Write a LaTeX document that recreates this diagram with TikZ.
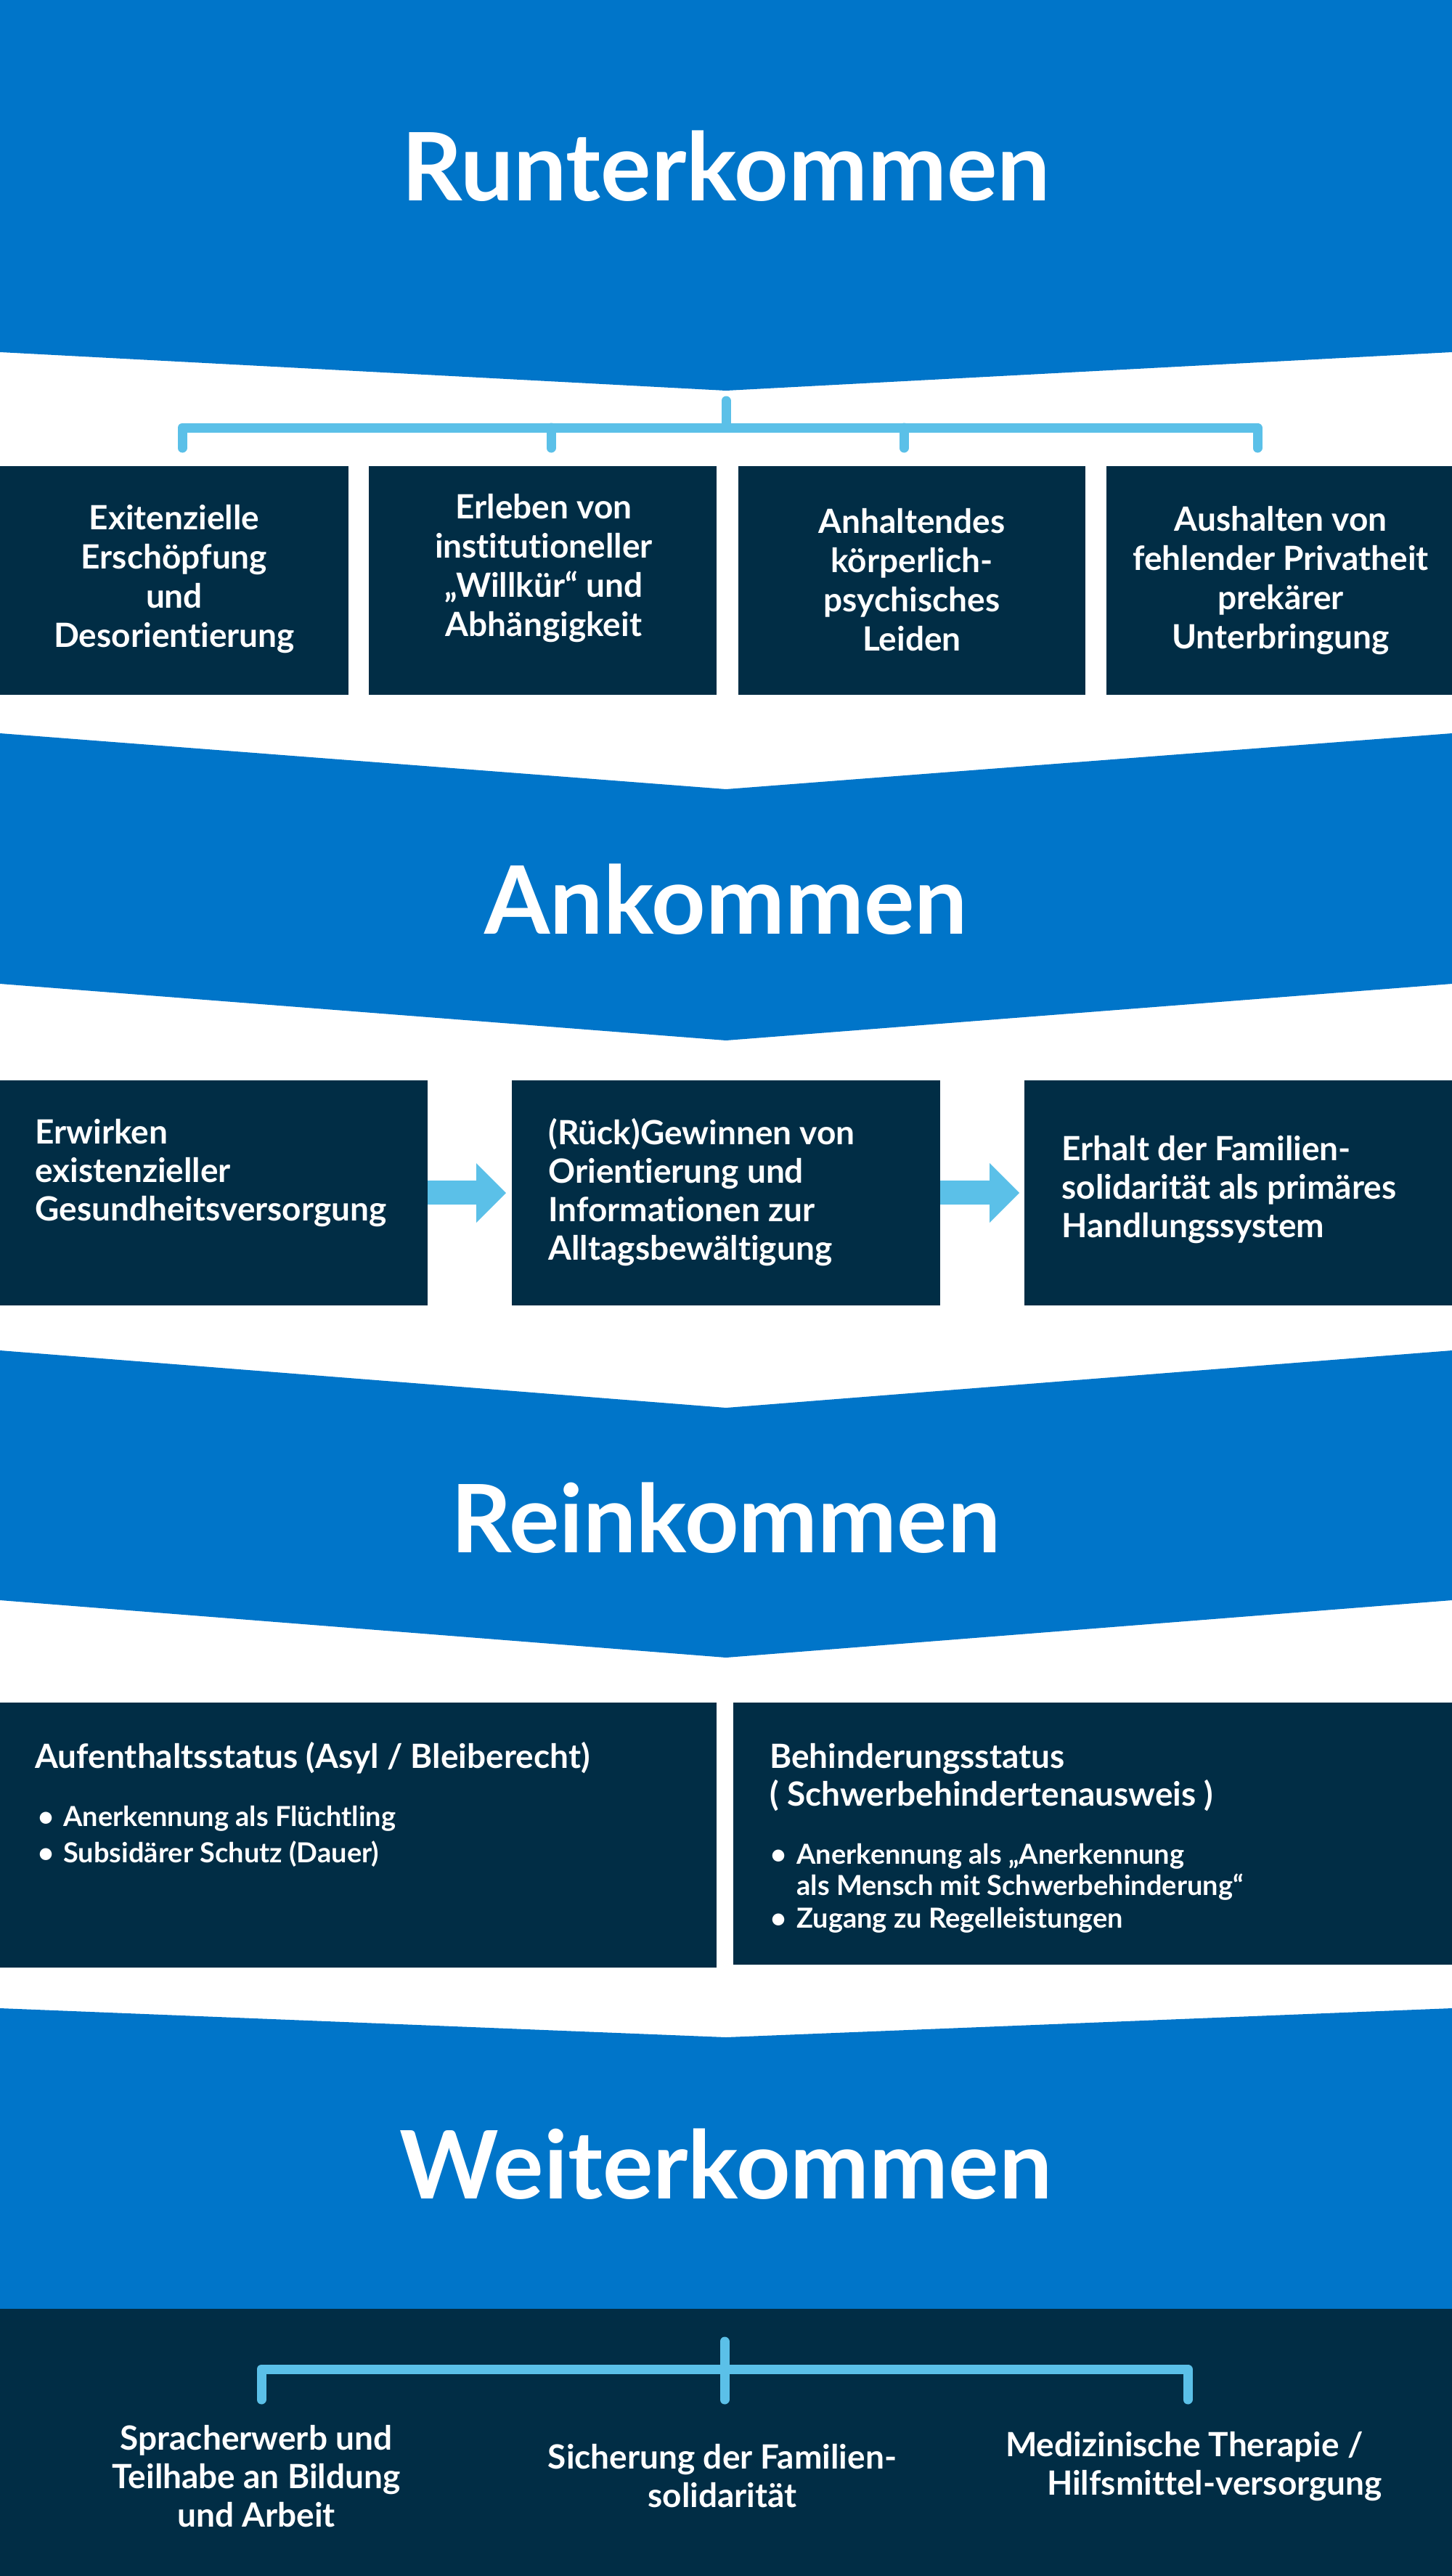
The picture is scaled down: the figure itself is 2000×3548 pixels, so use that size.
\documentclass[tikz,border=0pt]{standalone}
\usepackage{fontspec}
\setmainfont{Lato}[Ligatures=NoCommon]
\usetikzlibrary{calc}
\definecolor{bannerblue}{HTML}{0075C9}
\definecolor{navy}{HTML}{012D45}
\definecolor{lightblue}{HTML}{5BC0E8}
\begin{document}
\begin{tikzpicture}[x=0.5pt,y=-0.5pt,
 banner/.style={fill=bannerblue},
 box/.style={fill=navy},
 title/.style={text=white,font=\bfseries\fontsize{65}{72}\selectfont,anchor=base,inner sep=0pt},
 boxtext/.style={text=white,font=\bfseries\fontsize{23}{26.5}\selectfont,inner sep=0pt},
 toptext/.style={text=white,font=\bfseries\fontsize{23}{27}\selectfont,inner sep=0pt,align=center},
 bultext/.style={text=white,font=\bfseries\fontsize{19}{22}\selectfont,inner sep=0pt,anchor=base west},
 link/.style={draw=lightblue,line width=6.5pt,line cap=round,line join=round},
 blockarrow/.style={fill=lightblue}]
\useasboundingbox (0,0) rectangle (2000,3548);

% ---------- Runterkommen ----------
\fill[banner] (0,0) -- (2000,0) -- (2000,485) -- (1000,538) -- (0,485) -- cycle;
\node[title] (t1) at (1000,277) {Runterkommen};

\coordinate (c0) at (1000,552);
\coordinate (cb) at (1000,589);
\coordinate (j1) at (251,589);
\coordinate (j2) at (759,589);
\coordinate (j3) at (1245,589);
\coordinate (j4) at (1732,589);
\coordinate (d1) at (251,617);
\coordinate (d2) at (759,617);
\coordinate (d3) at (1245,617);
\coordinate (d4) at (1732,617);
\draw[link] (c0) -- (cb);
\draw[link] (d1) -- (j1) -- (j4) -- (d4);
\draw[link] (j2) -- (d2);
\draw[link] (j3) -- (d3);

\fill[box] (0,642) rectangle (480,957);
\fill[box] (508,642) rectangle (987,957);
\fill[box] (1017,642) rectangle (1495,957);
\fill[box] (1524,642) rectangle (2000,957);
\node[toptext] (r1a) at (240,798) {Exitenzielle\\Erschöpfung\\und\\Desorientierung};
\node[toptext] (r1b) at (749,783) {Erleben von\\institutioneller\\„Willkür“ und\\Abhängigkeit};
\node[toptext] (r1c) at (1256,799) {Anhaltendes\\körperlich-\\psychisches\\Leiden};
\node[toptext] (r1d) at (1764,800) {Aushalten von\\fehlender Privatheit\\prekärer\\Unterbringung};

% ---------- Ankommen ----------
\fill[banner] (0,1010) -- (1000,1087) -- (2000,1010) -- (2000,1355) -- (1000,1433) -- (0,1355) -- cycle;
\node[title] (t2) at (1000,1286) {Ankommen};

\fill[box] (0,1488) rectangle (589,1798);
\fill[box] (705,1488) rectangle (1295,1798);
\fill[box] (1411,1488) rectangle (2000,1798);
\node[boxtext,align=left,anchor=west] (r2a) at (48,1616) {Erwirken\\existenzieller\\Gesundheitsversorgung};
\node[boxtext,align=left,anchor=west] (r2b) at (755,1642) {(Rück)Gewinnen von\\Orientierung und\\Informationen zur\\Alltagsbewältigung};
\node[boxtext,align=left,anchor=west] (r2c) at (1462,1639) {Erhalt der Familien-\\solidarität als primäres\\Handlungssystem};

\fill[blockarrow] (589,1626) -- (656,1626) -- (656,1602) -- (697,1643) -- (656,1684) -- (656,1659) -- (589,1659) -- cycle;
\fill[blockarrow] (1295,1626) -- (1363,1626) -- (1363,1602) -- (1404,1643) -- (1363,1684) -- (1363,1659) -- (1295,1659) -- cycle;

% ---------- Reinkommen ----------
\fill[banner] (0,1860) -- (1000,1939) -- (2000,1860) -- (2000,2204) -- (1000,2283) -- (0,2204) -- cycle;
\node[title] (t3) at (1000,2138) {Reinkommen};

\fill[box] (0,2345) rectangle (987,2710);
\fill[box] (1010,2345) rectangle (2000,2706);

\node[boxtext,anchor=base west] (h1) at (48,2435) {Aufenthaltsstatus (Asyl / Bleiberecht)};
\node[bultext] (p1) at (52,2515) {•};
\node[bultext] (b1) at (87,2515) {Anerkennung als Flüchtling};
\node[bultext] (p2) at (52,2565) {•};
\node[bultext] (b2) at (87,2565) {Subsidärer Schutz (Dauer)};

\node[boxtext,anchor=base west] (h2) at (1060,2435) {Behinderungsstatus};
\node[boxtext,anchor=base west] (h3) at (1060,2487) {( Schwerbehindertenausweis )};
\node[bultext] (p3) at (1061,2567) {•};
\node[bultext] (b3) at (1097,2567) {Anerkennung als „Anerkennung};
\node[bultext] (b4) at (1097,2610) {als Mensch mit Schwerbehinderung“};
\node[bultext] (p4) at (1061,2655) {•};
\node[bultext] (b5) at (1097,2655) {Zugang zu Regelleistungen};

% ---------- Weiterkommen ----------
\fill[banner] (0,2766) -- (1000,2806) -- (2000,2766) -- (2000,3181) -- (0,3181) -- cycle;
\node[title] (t4) at (1000,3028) {Weiterkommen};
\fill[box] (0,3180) rectangle (2000,3548);

\coordinate (e0) at (998,3225);
\coordinate (e1) at (998,3305);
\coordinate (k1) at (360,3263);
\coordinate (k3) at (1636,3263);
\coordinate (f1) at (360,3305);
\coordinate (f3) at (1636,3305);
\draw[link] (f1) -- (k1) -- (k3) -- (f3);
\draw[link] (e0) -- (e1);

\node[boxtext,align=center] (s1) at (353,3411) {Spracherwerb und\\Teilhabe an Bildung\\und Arbeit};
\node[boxtext,align=center] (s2) at (995,3410) {Sicherung der Familien-\\solidarität};
\node[boxtext,align=right,anchor=east] (s3) at (1904,3397) {Medizinische Therapie /\hspace*{13pt}\\Hilfsmittel-versorgung};
\end{tikzpicture}
\end{document}
